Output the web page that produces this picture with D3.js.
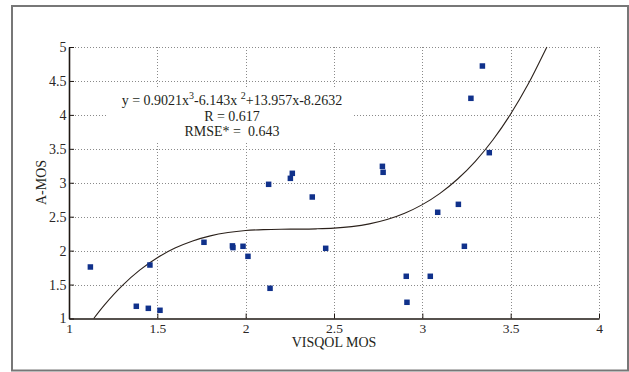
<!DOCTYPE html>
<html>
<head>
<meta charset="utf-8">
<script src="https://cdn.jsdelivr.net/npm/d3@7"></script>
<style>
  body { margin: 0; background: #fff; }
  svg { display: block; }
</style>
</head>
<body>
<script>
"use strict";

// measured points (VISQOL MOS vs A-MOS)
var visqol = [1.121, 1.381, 1.449, 1.515, 1.458, 1.764, 1.925, 1.928, 1.985, 2.013,
              2.130, 2.138, 2.253, 2.264, 2.377, 2.453, 2.774, 2.778, 2.909, 2.913,
              3.045, 3.087, 3.204, 3.238, 3.275, 3.340, 3.379];
var amos   = [1.759, 1.180, 1.150, 1.121, 1.788, 2.123, 2.070, 2.045, 2.064, 1.916,
              2.977, 1.445, 3.065, 3.139, 2.790, 2.034, 3.242, 3.154, 1.622, 1.239,
              1.622, 2.565, 2.682, 2.064, 4.244, 4.720, 3.443];

// fitted cubic
var fitX = [1.14, 1.2, 1.3, 1.4, 1.5, 1.6, 1.7, 1.8, 1.9, 2.0, 2.1, 2.2, 2.3, 2.4,
            2.5, 2.6, 2.7, 2.8, 2.9, 3.0, 3.1, 3.2, 3.3, 3.4, 3.5, 3.6, 3.7, 3.705];
var fitY = [1.00, 1.198, 1.481, 1.712, 1.895, 2.037, 2.142, 2.217, 2.266, 2.296, 2.310,
            2.316, 2.317, 2.321, 2.331, 2.354, 2.394, 2.458, 2.551, 2.678, 2.844,
            3.055, 3.316, 3.634, 4.012, 4.457, 4.974, 5.00];

var xTicks = [1, 1.5, 2, 2.5, 3, 3.5, 4];
var yTicks = [1, 1.5, 2, 2.5, 3, 3.5, 4, 4.5, 5];
var xTitle = 'VISQOL MOS';
var yTitle = 'A-MOS';
var eqParts = ['y = 0.9021x', '3', '-6.143x ', '2', '+13.957x-8.2632'];
var statLines = ['R = 0.617', 'RMSE* =  0.643'];

var W = 629, H = 372;
var padL = 69, padR = 599, padT = 47, padB = 318.5;
var font = '"Liberation Serif", "Times New Roman", serif';
var ink = '#231f20';

var svg = d3.select('body').append('svg')
  .attr('width', W)
  .attr('height', H)
  .style('font-family', font);

// outer frame
svg.append('rect')
  .attr('x', 12).attr('y', 6)
  .attr('width', 616).attr('height', 364.5)
  .attr('fill', '#fff')
  .attr('stroke', '#777')
  .attr('stroke-width', 2);

var x = d3.scaleLinear().domain([1, 4]).range([padL, padR]);
var y = d3.scaleLinear().domain([1, 5]).range([padB, padT]);

// dotted grid
var grid = svg.append('g')
  .attr('stroke', '#8a8a8a')
  .attr('stroke-width', 1)
  .attr('stroke-dasharray', '1,2');

grid.selectAll('.gx')
  .data(xTicks.slice(1))
  .enter().append('line')
  .attr('x1', function(d) { return Math.round(x(d)) + 0.5; })
  .attr('x2', function(d) { return Math.round(x(d)) + 0.5; })
  .attr('y1', padT)
  .attr('y2', padB);

grid.selectAll('.gy')
  .data(yTicks.slice(1))
  .enter().append('line')
  .attr('y1', function(d) { return Math.round(y(d)) + 0.5; })
  .attr('y2', function(d) { return Math.round(y(d)) + 0.5; })
  .attr('x1', padL)
  .attr('x2', padR);

// white box behind the fit text
svg.append('rect')
  .attr('x', 108).attr('y', 87)
  .attr('width', 245).attr('height', 56)
  .attr('fill', '#fff');

// axes
var xAxis = d3.axisBottom(x)
  .tickValues(xTicks)
  .tickFormat(d3.format('~g'))
  .tickSizeInner(-5)
  .tickSizeOuter(0)
  .tickPadding(4.5);

var yAxis = d3.axisLeft(y)
  .tickValues(yTicks)
  .tickFormat(d3.format('~g'))
  .tickSizeInner(-5)
  .tickSizeOuter(0)
  .tickPadding(2.5);

var gx = svg.append('g')
  .attr('transform', 'translate(0,' + padB + ')')
  .call(xAxis);

var gy = svg.append('g')
  .attr('transform', 'translate(' + padL + ',0)')
  .call(yAxis);

[gx, gy].forEach(function(g) {
  g.select('.domain').attr('stroke', '#1e1712').attr('stroke-width', 1.6);
  g.selectAll('.tick line').attr('stroke', '#1e1712').attr('stroke-width', 1);
  g.selectAll('.tick text')
    .attr('fill', '#2a2626')
    .style('font-family', font)
    .style('font-size', '14px');
});
gx.selectAll('.tick text').style('font-size', '13.5px');

// fitted curve
var line = d3.line()
  .x(function(d) { return x(d[0]); })
  .y(function(d) { return y(d[1]); })
  .curve(d3.curveCatmullRom);

svg.append('path')
  .datum(d3.zip(fitX, fitY))
  .attr('d', line)
  .attr('fill', 'none')
  .attr('stroke', '#2b211b')
  .attr('stroke-width', 1.1);

// data points
var sq = 5.5;
svg.selectAll('.pt')
  .data(d3.zip(visqol, amos))
  .enter().append('rect')
  .attr('x', function(d) { return x(d[0]) - sq / 2; })
  .attr('y', function(d) { return y(d[1]) - sq / 2; })
  .attr('width', sq)
  .attr('height', sq)
  .attr('fill', '#10318b');

// equation and stats
var eq = svg.append('text')
  .attr('x', 232)
  .attr('y', 105)
  .attr('text-anchor', 'middle')
  .attr('fill', ink)
  .style('font-size', '14px');

eqParts.forEach(function(t, i) {
  var sup = i === 1 || i === 3;
  eq.append('tspan')
    .attr('dy', sup ? -6 : (i > 0 ? 6 : 0))
    .style('font-size', sup ? '10px' : '14px')
    .text(t);
});

svg.selectAll('.stat')
  .data(statLines)
  .enter().append('text')
  .attr('x', 232)
  .attr('y', function(d, i) { return 120.5 + i * 15.5; })
  .attr('text-anchor', 'middle')
  .attr('fill', ink)
  .style('font-size', '14px')
  .style('white-space', 'pre')
  .text(function(d) { return d; });

// axis titles
svg.append('text')
  .attr('x', 334)
  .attr('y', 346.5)
  .attr('text-anchor', 'middle')
  .attr('fill', ink)
  .style('font-size', '14px')
  .text(xTitle);

svg.append('text')
  .attr('transform', 'translate(46,182.5) rotate(-90)')
  .attr('text-anchor', 'middle')
  .attr('fill', ink)
  .style('font-size', '14px')
  .text(yTitle);
</script>
</body>
</html>
